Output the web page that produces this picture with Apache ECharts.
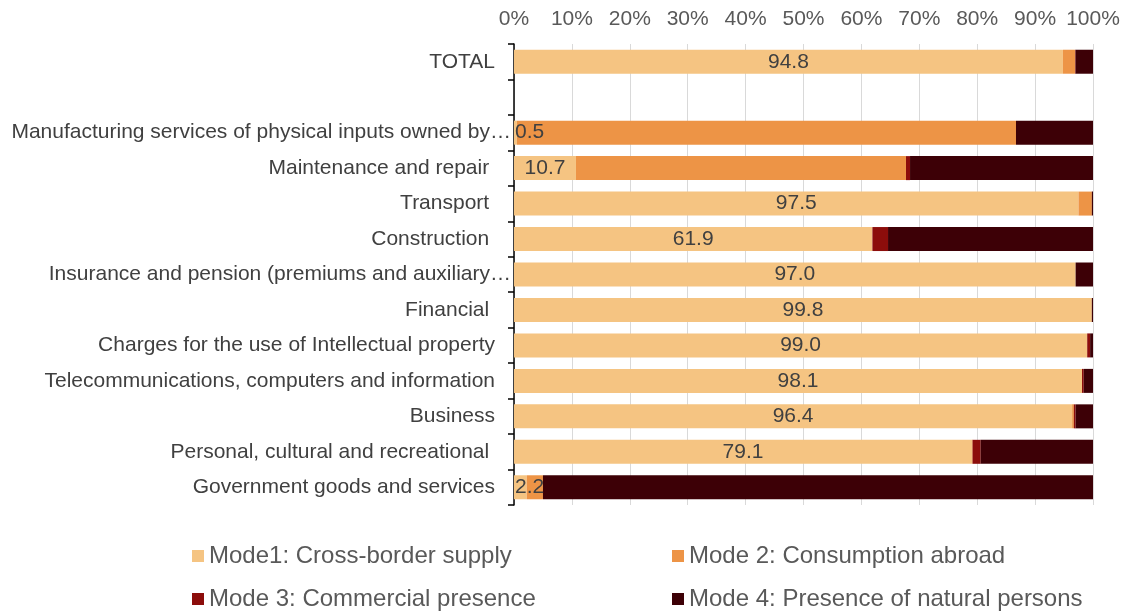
<!DOCTYPE html>
<html>
<head>
<meta charset="utf-8">
<script src="https://cdn.jsdelivr.net/npm/echarts@6/dist/echarts.min.js"></script>
<style>
html,body{margin:0;padding:0;background:#fff;}
#chart{width:1125px;height:611px;}
</style>
</head>
<body>
<div id="chart"></div>
<script>
const categories = [
  "TOTAL",
  "",
  "Manufacturing services of physical inputs owned by…",
  "Maintenance and repair ",
  "Transport ",
  "Construction ",
  "Insurance and pension (premiums and auxiliary…",
  "Financial ",
  "Charges for the use of Intellectual property",
  "Telecommunications, computers and information",
  "Business",
  "Personal, cultural and recreational ",
  "Government goods and services"
];
const seriesNames = [
  "Mode1: Cross-border supply",
  "Mode 2: Consumption abroad",
  "Mode 3: Commercial presence",
  "Mode 4: Presence of natural persons"
];
const mode1 = [94.8, null, 0.5, 10.7, 97.5, 61.9, 97.0, 99.8, 99.0, 98.1, 96.4, 79.1, 2.2];
const mode2 = [2.1, null, 86.2, 57.0, 2.3, 0.0, 0.0, 0.0, 0.0, 0.0, 0.3, 0.1, 2.8];
const mode3 = [0.1, null, 0.0, 0.7, 0.0, 2.7, 0.0, 0.0, 0.5, 0.3, 0.3, 1.4, 0.0];
const mode4 = [3.0, null, 13.3, 31.6, 0.2, 35.4, 3.0, 0.2, 0.5, 1.6, 3.0, 19.4, 95.0];
const xTicks = [0, 10, 20, 30, 40, 50, 60, 70, 80, 90, 100];

const colors = ["#F5C482", "#ED9446", "#8C0D0B", "#3D0006"];
const FONT = "Liberation Sans, Arial, sans-serif";

const chart = echarts.init(document.getElementById('chart'));

function mode1Data() {
  return mode1.map(v => {
    if (v === null) return null;
    const item = { value: v };
    if (v < 5) {
      item.label = { position: 'insideLeft', distance: 1 };
    }
    return item;
  });
}

const allSeries = [mode1Data(), mode2, mode3, mode4].map((d, i) => ({
  name: seriesNames[i],
  type: 'bar',
  stack: 'total',
  data: d,
  barWidth: 24,
  itemStyle: { color: colors[i] },
  label: i === 0 ? {
    show: true,
    position: 'inside',
    color: '#404040',
    fontSize: 21,
    fontFamily: FONT,
    formatter: p => Number(p.value).toFixed(1)
  } : { show: false },
  emphasis: { disabled: true }
}));

const legendPos = [
  { left: 192, top: 544 },
  { left: 672, top: 544 },
  { left: 192, top: 587 },
  { left: 672, top: 587 }
];

const catText = { fontSize: 21, fontFamily: FONT, color: '#404040' };

chart.setOption({
  animation: false,
  color: colors,
  grid: { left: 514, right: 32, top: 44, bottom: 106, containLabel: false, outerBoundsMode: 'none' },
  xAxis: {
    type: 'value',
    position: 'top',
    min: 0,
    max: 100,
    interval: 10,
    axisLine: { show: false },
    axisTick: { show: false },
    splitLine: { show: true, lineStyle: { color: '#D9D9D9', width: 1 } },
    axisLabel: {
      color: '#595959',
      fontSize: 21,
      fontFamily: FONT,
      margin: 14,
      formatter: v => xTicks.includes(v) ? v + '%' : ''
    }
  },
  yAxis: {
    type: 'category',
    inverse: true,
    data: categories,
    axisLine: { show: true, lineStyle: { color: '#000000', width: 1.5 } },
    axisTick: { show: true, inside: false, length: 6, lineStyle: { color: '#000000', width: 1.5 } },
    axisLabel: {
      color: '#404040',
      fontSize: 21,
      fontFamily: FONT,
      margin: 3,
      formatter: v => v.endsWith('…') ? '{t|' + v + '}' : '{n|' + v + '}',
      rich: {
        t: Object.assign({}, catText),
        n: Object.assign({ padding: [0, 16, 0, 0] }, catText)
      }
    }
  },
  legend: seriesNames.map((n, i) => ({
    data: [n],
    left: legendPos[i].left,
    top: legendPos[i].top,
    itemWidth: 12,
    itemHeight: 12,
    icon: 'rect',
    padding: 0,
    selectedMode: false,
    textStyle: { color: '#595959', fontSize: 24, fontFamily: FONT }
  })),
  series: allSeries
});
</script>
</body>
</html>
